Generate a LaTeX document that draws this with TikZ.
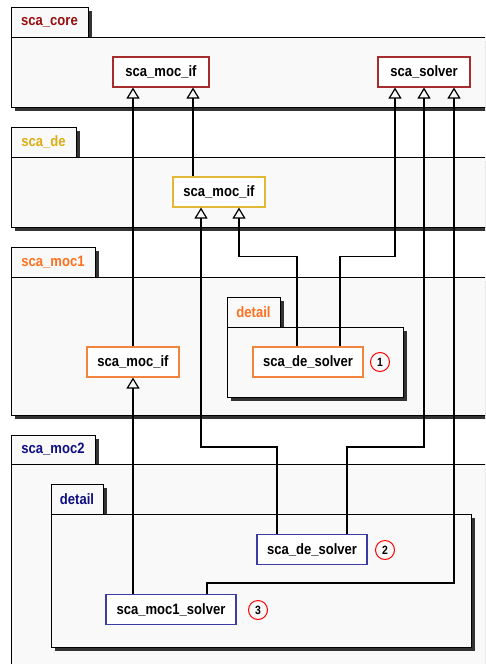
\documentclass[tikz,border=0pt]{standalone}
\usepackage{fontspec}
\setmainfont{Liberation Sans}[FakeStretch=0.87]
\usetikzlibrary{arrows.meta}

\definecolor{corec}{RGB}{150,15,15}
\definecolor{dec}{RGB}{222,172,20}
\definecolor{mocac}{RGB}{255,112,30}
\definecolor{mocbc}{RGB}{15,15,130}
\definecolor{coreline}{RGB}{165,45,45}
\definecolor{deline}{RGB}{225,185,55}
\definecolor{mocaline}{RGB}{242,132,62}
\definecolor{mocbline}{RGB}{60,60,165}

\begin{document}
\begin{tikzpicture}[
  x=1pt,y=-1pt,
  font=\fontsize{15}{17}\selectfont\bfseries,
  pkg/.style={draw=black,fill=gray!5,line width=1pt},
  pkgshadow/.style={fill=black!80},
  pkglab/.style={text=#1},
  cls/.style={draw=#1,fill=white,line width=1.1pt,minimum height=30pt,inner sep=0pt},
  num/.style={circle,draw=red,line width=1pt,minimum size=19pt,inner sep=0pt,
    font=\fontsize{12}{12}\selectfont\bfseries},
  gen/.style={line width=1.2pt,-{Triangle[open,length=11pt,width=13pt]}}]

  \useasboundingbox (0,0) rectangle (485,664);
  \clip (0,0) rectangle (485,664);

  % ---- packages ----
  \fill[pkgshadow] (15,11) rectangle (92,41);
  \fill[pkgshadow] (15,41) rectangle (499,111);
  \filldraw[pkg] (11,7) rectangle (88,37);
  \filldraw[pkg] (11,37) rectangle (495,107);
  \node[pkglab=corec] (core) at (49.5,22) {sca\_core};

  \fill[pkgshadow] (15,131) rectangle (80,161);
  \fill[pkgshadow] (15,161) rectangle (499,231);
  \filldraw[pkg] (11,127) rectangle (76,157);
  \filldraw[pkg] (11,157) rectangle (495,227);
  \node[pkglab=dec] (de) at (43.5,142) {sca\_de};

  \fill[pkgshadow] (15,251) rectangle (99,281);
  \fill[pkgshadow] (15,281) rectangle (499,419);
  \filldraw[pkg] (11,247) rectangle (95,277);
  \filldraw[pkg] (11,277) rectangle (495,415);
  \node[pkglab=mocac] (moca) at (53,262) {sca\_moc1};

  \fill[pkgshadow] (231,301) rectangle (284,331);
  \fill[pkgshadow] (231,331) rectangle (407,401);
  \filldraw[pkg] (227,297) rectangle (280,327);
  \filldraw[pkg] (227,327) rectangle (403,397);
  \node[pkglab=mocac] (mocadetail) at (253.5,312) {detail};

  \fill[pkgshadow] (15,439) rectangle (99,468);
  \fill[pkgshadow] (15,468) rectangle (499,704);
  \filldraw[pkg] (11,435) rectangle (95,464);
  \filldraw[pkg] (11,464) rectangle (495,700);
  \node[pkglab=mocbc] (mocb) at (53,449.5) {sca\_moc2};

  \fill[pkgshadow] (55,488) rectangle (107,518);
  \fill[pkgshadow] (55,518) rectangle (475,651);
  \filldraw[pkg] (51,484) rectangle (103,514);
  \filldraw[pkg] (51,514) rectangle (471,647);
  \node[pkglab=mocbc] (mocbdetail) at (77,499) {detail};

  % ---- classes ----
  \node[cls=coreline,minimum width=96pt] (coremoc) at (161,72) {sca\_moc\_if};
  \node[cls=coreline,minimum width=92pt] (coresolver) at (424,72) {sca\_solver};
  \node[cls=deline,minimum width=92pt] (democ) at (219,192) {sca\_moc\_if};
  \node[cls=mocaline,minimum width=92pt] (mocamoc) at (133,362) {sca\_moc\_if};
  \node[cls=mocaline,minimum width=110pt] (mocasolver) at (308,362) {sca\_de\_solver};
  \node[num] (one) at (380,362) {1};
  \node[cls=mocbline,minimum width=110pt] (mocbsolver) at (312,549.5) {sca\_de\_solver};
  \node[num] (two) at (385,550) {2};
  \node[cls=mocbline,minimum width=130pt] (mocbmocsolver) at (171,609.5) {sca\_moc1\_solver};
  \node[num] (three) at (258,610) {3};

  % ports on the base classes
  \coordinate (cm1) at ([xshift=-28pt]coremoc.south);
  \coordinate (cm2) at ([xshift=32pt]coremoc.south);
  \coordinate (cs1) at ([xshift=-29pt]coresolver.south);
  \coordinate (cs2) at (coresolver.south);
  \coordinate (cs3) at ([xshift=30pt]coresolver.south);
  \coordinate (dm1) at ([xshift=-18pt]democ.south);
  \coordinate (dm2) at ([xshift=20pt]democ.south);

  % ---- inheritance ----
  \draw[gen] (mocamoc.north) -- (cm1);
  \draw[gen] (cm2 |- democ.north) -- (cm2);
  \draw[gen] (mocbmocsolver.north -| mocamoc.south) -- (mocamoc.south);
  \draw[gen] ([xshift=-11pt]mocasolver.north) -- ++(0,-90) -| (dm2);
  \draw[gen] ([xshift=32pt]mocasolver.north) -- ++(0,-90) -| (cs1);
  \draw[gen] ([xshift=-35pt]mocbsolver.north) -- ++(0,-87) -| (dm1);
  \draw[gen] ([xshift=35pt]mocbsolver.north) -- ++(0,-87) -| (cs2);
  \draw[gen] ([xshift=36pt]mocbmocsolver.north) -- ++(0,-11) -| (cs3);
\end{tikzpicture}
\end{document}
